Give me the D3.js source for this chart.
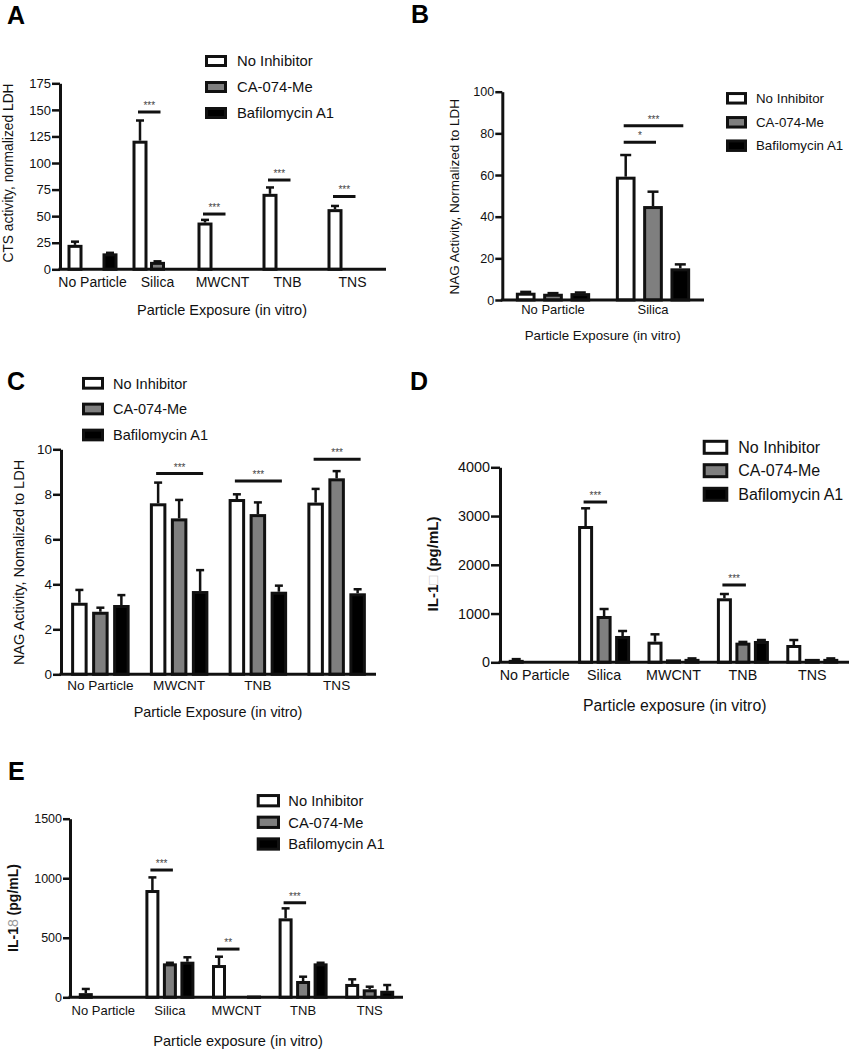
<!DOCTYPE html>
<html><head><meta charset="utf-8">
<script src="https://cdn.jsdelivr.net/npm/d3@7"></script>
<style>
body{margin:0;background:#fff}
svg{display:block}
text{font-family:"Liberation Sans",Arial,Helvetica,sans-serif}
</style>
</head><body>
<script>
// ---------------- DATA ----------------
const series = ["No Inhibitor", "CA-074-Me", "Bafilomycin A1"];

// Panel A
const catsA = ["No Particle", "Silica", "MWCNT", "TNB", "TNS"];
const ticksA = [0, 25, 50, 75, 100, 125, 150, 175];
const meanA = [[23, 121, 44, 71, 56.6], [0, 7, 0.6, 1, 0.8], [15, 1, 0.5, 1, 0]];
const errA  = [[3, 19, 2.5, 6, 3], [0, 0.5, 0, 0, 0], [0.5, 0, 0, 0, 0]];
const sigA = [
  {cat: "Silica", from: 0, to: 1, at: 148, mark: "***"},
  {cat: "MWCNT", from: 0, to: 1, at: 52, mark: "***"},
  {cat: "TNB", from: 0, to: 1, at: 84, mark: "***"},
  {cat: "TNS", from: 0, to: 1, at: 68.5, mark: "***"}
];

// Panel B
const catsB = ["No Particle", "Silica"];
const ticksB = [0, 20, 40, 60, 80, 100];
const meanB = [[3.5, 59.2], [3, 45.1], [3.3, 15.2]];
const errB  = [[0.4, 10.4], [0.3, 6.9], [0.3, 1.9]];
const sigB = [
  {cat: "Silica", from: 0, to: 1, at: 75.7, mark: "*"},
  {cat: "Silica", from: 0, to: 2, at: 83.7, mark: "***"}
];

// Panel C
const catsC = ["No Particle", "MWCNT", "TNB", "TNS"];
const ticksC = [0, 2, 4, 6, 8, 10];
const meanC = [[3.18, 7.6, 7.79, 7.63], [2.78, 6.93, 7.12, 8.71], [3.08, 3.7, 3.67, 3.6]];
const errC  = [[0.57, 0.92, 0.21, 0.61], [0.18, 0.82, 0.52, 0.32], [0.44, 0.93, 0.27, 0.18]];
const sigC = [
  {cat: "MWCNT", from: 0, to: 2, at: 8.92, mark: "***"},
  {cat: "TNB", from: 0, to: 2, at: 8.59, mark: "***"},
  {cat: "TNS", from: 0, to: 2, at: 9.56, mark: "***"}
];

// Panel D
const catsD = ["No Particle", "Silica", "MWCNT", "TNB", "TNS"];
const ticksD = [0, 1000, 2000, 3000, 4000];
const meanD = [[50, 2796, 423, 1313, 355], [20, 950, 60, 403, 70], [0, 540, 70, 437, 70]];
const errD  = [[15, 363, 151, 88, 102], [0, 143, 0, 15, 0], [0, 102, 10, 20, 10]];
const sigD = [
  {cat: "Silica", from: 0, to: 1, at: 3288, mark: "***"},
  {cat: "TNB", from: 0, to: 1, at: 1586, mark: "***"}
];

// Panel E
const catsE = ["No Particle", "Silica", "MWCNT", "TNB", "TNS"];
const ticksE = [0, 500, 1000, 1500];
const meanE = [[35, 901, 271, 663, 112], [0, 285, 0, 137, 67], [0, 299, 15, 285, 55]];
const errE  = [[35, 106, 70, 84, 39], [0, 5, 0, 36, 22], [0, 37, 0, 5, 48]];
const sigE = [
  {cat: "Silica", from: 0, to: 1, at: 1069, mark: "***"},
  {cat: "MWCNT", from: 0, to: 1, at: 405, mark: "**"},
  {cat: "TNB", from: 0, to: 1, at: 794, mark: "***"}
];

// ---------------- STYLE / LAYOUT ----------------
const fills = ["#ffffff", "#7f7f7f", "#000000"];
const INK = "#111";
const SW = 3;

const svg = d3.select("body").append("svg").attr("width", 849).attr("height", 1050);

function drawPanel(cfg) {
  const g = svg.append("g");
  const y = d3.scaleLinear().domain([0, cfg.max]).range([cfg.yBase, cfg.yTop]);
  const x = d3.scaleBand().domain(cfg.cats).range([cfg.bandStart, cfg.bandEnd]).padding(0);
  const xs = d3.scaleBand().domain(series).range([-1.5 * cfg.innerStep, 1.5 * cfg.innerStep]);
  const cx = (c, si) => x(c) + x.bandwidth() / 2 + xs(series[si]) + xs.bandwidth() / 2;

  const rows = [];
  cfg.means.forEach((arr, si) => arr.forEach((v, ci) =>
    rows.push({s: si, c: cfg.cats[ci], v: v, e: cfg.errs[si][ci]})));

  // error bars
  const eb = g.append("g").attr("stroke", INK).attr("stroke-width", 2.5).attr("fill", "none");
  rows.filter(d => d.v > 0 && d.e > 0).forEach(d => {
    const X = cx(d.c, d.s);
    eb.append("line").attr("x1", X).attr("x2", X).attr("y1", y(d.v)).attr("y2", y(d.v + d.e));
    eb.append("line").attr("x1", X - cfg.cap / 2).attr("x2", X + cfg.cap / 2)
      .attr("y1", y(d.v + d.e)).attr("y2", y(d.v + d.e));
  });

  // bars
  g.append("g").selectAll("rect").data(rows.filter(d => d.v > 0)).join("rect")
    .attr("x", d => cx(d.c, d.s) - (cfg.barW - SW) / 2)
    .attr("width", cfg.barW - SW)
    .attr("y", d => Math.min(y(d.v) + SW / 2, cfg.yBase))
    .attr("height", d => Math.max(cfg.yBase - y(d.v) - SW / 2, 0))
    .attr("fill", d => fills[d.s])
    .attr("stroke", INK).attr("stroke-width", SW);

  // y axis
  const ya = g.append("g").attr("transform", `translate(${cfg.x0},0)`)
    .call(d3.axisLeft(y).tickValues(cfg.ticks).tickFormat(d3.format("d"))
      .tickSize(cfg.tickLen).tickSizeOuter(0).tickPadding(1))
    .attr("font-family", null).attr("font-size", cfg.tickFont);
  ya.select(".domain").attr("stroke", INK).attr("stroke-width", 3);
  ya.selectAll(".tick line").attr("stroke", INK).attr("stroke-width", 2.5);
  ya.selectAll(".tick text").attr("fill", INK);

  // x axis
  const xa = g.append("g").attr("transform", `translate(0,${cfg.yBase})`)
    .call(d3.axisBottom(x).tickSize(0).tickPadding(cfg.catBase - cfg.yBase - 0.71 * cfg.catFont))
    .attr("font-family", null).attr("font-size", cfg.catFont);
  xa.select(".domain").remove();
  xa.selectAll(".tick text").attr("fill", INK);
  g.append("line").attr("x1", cfg.x0 - 1.5).attr("x2", cfg.axisEnd)
    .attr("y1", cfg.yBase).attr("y2", cfg.yBase).attr("stroke", INK).attr("stroke-width", 3);

  // significance
  cfg.sig.forEach(s => {
    const xa1 = cx(s.cat, s.from) - 2, xa2 = cx(s.cat, s.to) + 3;
    g.append("line").attr("x1", xa1).attr("x2", xa2).attr("y1", y(s.at)).attr("y2", y(s.at))
      .attr("stroke", INK).attr("stroke-width", 3);
    g.append("text").attr("x", (xa1 + xa2) / 2).attr("y", y(s.at) - 3)
      .attr("text-anchor", "middle").attr("font-size", 10).attr("fill", "#444").text(s.mark);
  });

  // axis titles
  g.append("text").attr("x", cfg.titleX).attr("y", cfg.titleY).attr("text-anchor", "middle")
    .attr("font-size", cfg.titleFont).attr("fill", INK).text(cfg.xTitle);
  const yt = g.append("text").attr("transform", `translate(${cfg.yTitleX},${cfg.yTitleY}) rotate(-90)`)
    .attr("text-anchor", "middle").attr("font-size", cfg.yTitleFont).attr("fill", INK)
    .attr("font-weight", cfg.yTitleBold ? "bold" : null);
  cfg.yTitle.forEach(p => {
    const t = yt.append("tspan").text(p.t);
    if (p.c) t.attr("fill", p.c);
    if (p.w) t.attr("font-weight", p.w);
  });

  // legend
  series.forEach((s, i) => {
    const cy = cfg.legY[i];
    g.append("rect").attr("x", cfg.legX + SW / 2).attr("y", cy - cfg.legH / 2 + SW / 2)
      .attr("width", cfg.legW - SW).attr("height", cfg.legH - SW)
      .attr("fill", fills[i]).attr("stroke", INK).attr("stroke-width", SW);
    g.append("text").attr("x", cfg.legTextX).attr("y", cy + 0.36 * cfg.legFont)
      .attr("font-size", cfg.legFont).attr("fill", INK).text(s);
  });

  // panel letter
  g.append("text").attr("x", cfg.letterX).attr("y", cfg.letterY).attr("font-size", 25)
    .attr("font-weight", "bold").attr("fill", "#000").text(cfg.letter);
}

drawPanel({
  letter: "A", letterX: 7, letterY: 24,
  cats: catsA, ticks: ticksA, means: meanA, errs: errA, sig: sigA, max: 175,
  x0: 60, bandStart: 60, bandEnd: 385, axisEnd: 386, yBase: 269.3, yTop: 83.3,
  innerStep: 17.5, barW: 15, cap: 8, tickLen: 8, tickFont: 13,
  catFont: 14, catBase: 287,
  xTitle: "Particle Exposure (in vitro)", titleX: 222, titleY: 315, titleFont: 14.5,
  yTitle: [{t: "CTS activity, normalized LDH"}], yTitleX: 13, yTitleY: 173, yTitleFont: 13.8,
  legX: 205, legW: 22, legH: 12, legY: [61, 87, 113], legTextX: 237, legFont: 14.8
});

drawPanel({
  letter: "B", letterX: 411, letterY: 23,
  cats: catsB, ticks: ticksB, means: meanB, errs: errB, sig: sigB, max: 100,
  x0: 502.3, bandStart: 503, bandEnd: 703, axisEnd: 704, yBase: 300, yTop: 91.7,
  innerStep: 27.3, barW: 19.7, cap: 11, tickLen: 7, tickFont: 12.6,
  catFont: 13, catBase: 314,
  xTitle: "Particle Exposure (in vitro)", titleX: 602.7, titleY: 340, titleFont: 13.3,
  yTitle: [{t: "NAG Activity, Normalized to LDH"}], yTitleX: 459, yTitleY: 196.7, yTitleFont: 13.5,
  legX: 726, legW: 21, legH: 12.5, legY: [98.3, 122.3, 145.7], legTextX: 756, legFont: 13.3
});

drawPanel({
  letter: "C", letterX: 7, letterY: 390,
  cats: catsC, ticks: ticksC, means: meanC, errs: errC, sig: sigC, max: 10,
  x0: 61, bandStart: 61, bandEnd: 376, axisEnd: 376, yBase: 674.3, yTop: 449.3,
  innerStep: 21, barW: 16.5, cap: 8, tickLen: 8, tickFont: 13.5,
  catFont: 13.6, catBase: 690,
  xTitle: "Particle Exposure (in vitro)", titleX: 218, titleY: 717, titleFont: 14.4,
  yTitle: [{t: "NAG Activity, Nomalized to LDH"}], yTitleX: 23.5, yTitleY: 562.5, yTitleFont: 14.5,
  legX: 82, legW: 22, legH: 12.7, legY: [383.3, 409, 435], legTextX: 113, legFont: 14.5
});

drawPanel({
  letter: "D", letterX: 410, letterY: 390,
  cats: catsD, ticks: ticksD, means: meanD, errs: errD, sig: sigD, max: 4000,
  x0: 500, bandStart: 500, bandEnd: 847, axisEnd: 849, yBase: 662.3, yTop: 467.3,
  innerStep: 18.5, barW: 15, cap: 9, tickLen: 9, tickFont: 14.4,
  catFont: 14.3, catBase: 680,
  xTitle: "Particle exposure (in vitro)", titleX: 674.7, titleY: 711, titleFont: 15.8,
  yTitle: [{t: "IL-1"}, {t: "\u25A1", c: "#c8c8c8", w: "normal"}, {t: " (pg/mL)"}],
  yTitleBold: true, yTitleX: 437.5, yTitleY: 564, yTitleFont: 15,
  legX: 702.7, legW: 25.6, legH: 15, legY: [447.3, 470.7, 494.3], legTextX: 738.3, legFont: 16
});

drawPanel({
  letter: "E", letterX: 8, letterY: 780,
  cats: catsE, ticks: ticksE, means: meanE, errs: errE, sig: sigE, max: 1500,
  x0: 70, bandStart: 70, bandEnd: 403, axisEnd: 403, yBase: 997.3, yTop: 818.7,
  innerStep: 17.5, barW: 14, cap: 8, tickLen: 7, tickFont: 12.5,
  catFont: 13, catBase: 1015,
  xTitle: "Particle exposure (in vitro)", titleX: 238, titleY: 1046, titleFont: 14.6,
  yTitle: [{t: "IL-1"}, {t: "8", c: "#999", w: "normal"}, {t: " (pg/mL)"}],
  yTitleBold: true, yTitleX: 17.5, yTitleY: 908, yTitleFont: 14,
  legX: 256.7, legW: 23.3, legH: 13.3, legY: [800.7, 822.3, 844], legTextX: 288.3, legFont: 14.7
});
</script>
</body></html>
